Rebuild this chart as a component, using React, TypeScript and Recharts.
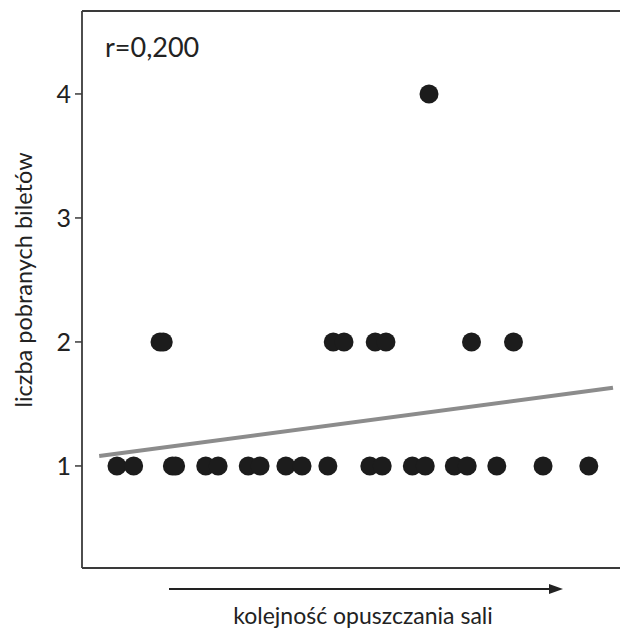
import React from "react";
import { ScatterChart, Scatter, XAxis, YAxis, ReferenceLine, Label } from "recharts";

// Position in the order of leaving the hall (0-100 scale) and number of tickets taken
const onesX = [6.5, 9.6, 16.8, 17.4, 23.0, 25.3, 30.9, 33.1, 37.9, 40.9, 45.7, 53.5, 55.8, 61.4, 63.8, 69.2, 71.6, 77.1, 85.7, 94.2];
const twosX = [14.5, 15.1, 46.7, 48.7, 54.5, 56.5, 72.4, 80.2];
const foursX = [64.5];
const yTicks = [1, 2, 3, 4];
const trendX = [3.2, 98.7];
const trendY = [1.08, 1.63];
const rLabel = "r=0,200";
const xTitle = "kolejność opuszczania sali";
const yTitle = "liczba pobranych biletów";

const points = [
  ...onesX.map((x) => ({ x, y: 1 })),
  ...twosX.map((x) => ({ x, y: 2 })),
  ...foursX.map((x) => ({ x, y: 4 })),
];

const X_DOMAIN: [number, number] = [0, 100];
const Y_DOMAIN: [number, number] = [0.177, 4.669];
const FONT = "Lato, 'Open Sans', sans-serif";
const TEXT = "#222";
const FRAME = "#3a3a3a";

const Dot = (props: any) => {
  const { cx, cy } = props;
  if (cx == null || cy == null) return null;
  return <circle cx={cx} cy={cy} r={9.5} fill="#1c1c1c" />;
};

const XTitle = (props: any) => {
  const vb = props.viewBox || {};
  const x0 = vb.x + 87;
  const x1 = vb.x + 481;
  const ay = vb.y + 21;
  const cx = vb.x + 281;
  return (
    <g>
      <line x1={x0} y1={ay} x2={x1 - 10} y2={ay} stroke="#222" strokeWidth={1.8} />
      <polygon points={`${x1},${ay} ${x1 - 14},${ay - 5} ${x1 - 14},${ay + 5}`} fill="#222" />
      <text x={cx} y={vb.y + 56} textAnchor="middle" fontFamily={FONT} fontSize={23} fill={TEXT}>
        {xTitle}
      </text>
    </g>
  );
};

const YTitle = (props: any) => {
  const vb = props.viewBox || {};
  const x = vb.x + 32;
  const y = vb.y + 269;
  return (
    <text
      x={x}
      y={y}
      transform={`rotate(-90 ${x} ${y})`}
      textAnchor="middle"
      fontFamily={FONT}
      fontSize={23.5}
      fill={TEXT}
    >
      {yTitle}
    </text>
  );
};

const RLabel = (props: any) => {
  const vb = props.viewBox || {};
  return (
    <text x={vb.x + 23} y={vb.y + 46} fontFamily={FONT} fontSize={27} fill={TEXT}>
      {rLabel}
    </text>
  );
};

export default function App() {
  return (
    <div style={{ position: "absolute", left: 0, top: 0, background: "#fff" }}>
      <ScatterChart width={621} height={631} margin={{ top: 11, right: 1, bottom: 0, left: 0 }}>
        <XAxis
          type="number"
          dataKey="x"
          domain={X_DOMAIN}
          tick={false}
          tickLine={false}
          height={63}
          axisLine={{ stroke: FRAME, strokeWidth: 1.8 }}
          allowDataOverflow
        >
          <Label content={<XTitle />} />
        </XAxis>
        <YAxis
          type="number"
          dataKey="y"
          domain={Y_DOMAIN}
          ticks={yTicks}
          width={82}
          tickSize={7}
          tickMargin={4}
          tick={{ fontFamily: FONT, fontSize: 25, fill: TEXT }}
          tickLine={{ stroke: FRAME, strokeWidth: 1.5 }}
          axisLine={{ stroke: FRAME, strokeWidth: 1.8 }}
          allowDataOverflow
        >
          <Label content={<YTitle />} />
        </YAxis>
        <ReferenceLine y={Y_DOMAIN[1]} stroke={FRAME} strokeWidth={1.8} ifOverflow="visible">
          <Label content={<RLabel />} />
        </ReferenceLine>
        <ReferenceLine
          segment={[
            { x: trendX[0], y: trendY[0] },
            { x: trendX[1], y: trendY[1] },
          ]}
          stroke="#8c8c8c"
          strokeWidth={4}
          ifOverflow="visible"
        />
        <Scatter data={points} shape={<Dot />} isAnimationActive={false} />
      </ScatterChart>
    </div>
  );
}
